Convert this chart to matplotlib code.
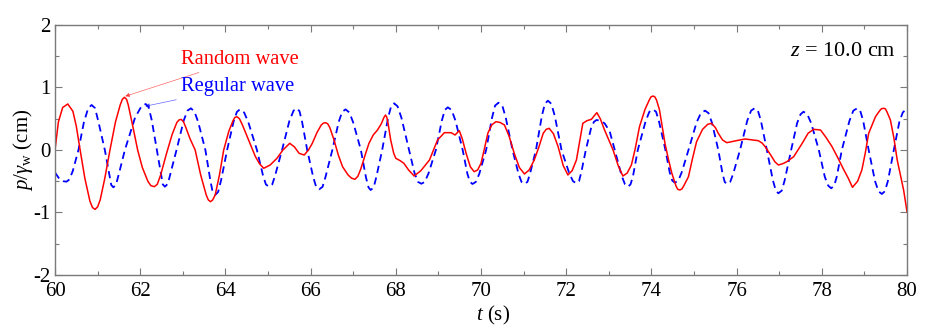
import numpy as np
import matplotlib
matplotlib.use('Agg')
import matplotlib.pyplot as plt
from matplotlib.ticker import MultipleLocator

plt.rcParams['font.family'] = ['Liberation Serif', 'DejaVu Serif']
plt.rcParams['mathtext.fontset'] = 'custom'
plt.rcParams['mathtext.rm'] = 'Liberation Serif'
plt.rcParams['mathtext.it'] = 'Liberation Serif:italic'
plt.rcParams['axes.unicode_minus'] = False

# random wave record: (t [s], p/gamma_w [cm])
random_wave = [
    (60.00, 0.00), (60.08, 0.45), (60.18, 0.68), (60.30, 0.736), (60.42, 0.62),
    (60.50, 0.38), (60.59, 0.00), (60.70, -0.45), (60.82, -0.82), (60.88, -0.92),
    (60.94, -0.95), (61.00, -0.91), (61.06, -0.80), (61.17, -0.45), (61.29, 0.00),
    (61.42, 0.45), (61.53, 0.72), (61.58, 0.81), (61.63, 0.843), (61.68, 0.81),
    (61.72, 0.72), (61.82, 0.40), (61.94, 0.00), (62.05, -0.28), (62.18, -0.50),
    (62.25, -0.57), (62.33, -0.587), (62.40, -0.55), (62.48, -0.40), (62.62, -0.05),
    (62.75, 0.25), (62.86, 0.44), (62.91, 0.48), (62.96, 0.49), (63.01, 0.46),
    (63.06, 0.38), (63.17, 0.18), (63.29, 0.00), (63.42, -0.40), (63.55, -0.72),
    (63.60, -0.80), (63.65, -0.827), (63.70, -0.80), (63.76, -0.72), (63.86, -0.40),
    (63.96, 0.00), (64.08, 0.30), (64.18, 0.47), (64.22, 0.52), (64.27, 0.533),
    (64.33, 0.50), (64.40, 0.40), (64.55, 0.15), (64.70, -0.10), (64.80, -0.22),
    (64.90, -0.293), (65.05, -0.24), (65.21, -0.133), (65.35, 0.00), (65.51, 0.107),
    (65.62, 0.05), (65.73, -0.053), (65.85, -0.08), (65.95, 0.00), (66.04, 0.107),
    (66.15, 0.28), (66.25, 0.40), (66.30, 0.43), (66.35, 0.437), (66.40, 0.42),
    (66.45, 0.36), (66.55, 0.16), (66.65, -0.08), (66.75, -0.267), (66.88, -0.40),
    (66.96, -0.45), (67.04, -0.469), (67.11, -0.42), (67.18, -0.30), (67.28, -0.08),
    (67.37, 0.107), (67.47, 0.24), (67.57, 0.32), (67.66, 0.42), (67.72, 0.52),
    (67.76, 0.56), (67.79, 0.52), (67.82, 0.42), (67.88, 0.16), (67.95, -0.05),
    (68.00, -0.133), (68.10, -0.17), (68.19, -0.213), (68.30, -0.32), (68.43, -0.416),
    (68.59, -0.33), (68.79, -0.16), (68.98, 0.16), (69.14, 0.277), (69.30, 0.277),
    (69.39, 0.24), (69.49, 0.31), (69.56, 0.18), (69.65, -0.053), (69.75, -0.27),
    (69.84, -0.347), (69.92, -0.32), (70.00, -0.213), (70.08, 0.02), (70.16, 0.267),
    (70.25, 0.40), (70.35, 0.453), (70.45, 0.44), (70.55, 0.40), (70.66, 0.22),
    (70.78, -0.053), (70.90, -0.28), (71.02, -0.384), (71.13, -0.32), (71.25, -0.16),
    (71.36, 0.05), (71.46, 0.267), (71.53, 0.33), (71.60, 0.347), (71.70, 0.26),
    (71.81, 0.053), (71.93, -0.25), (72.04, -0.40), (72.14, -0.33), (72.24, -0.16),
    (72.32, 0.15), (72.39, 0.427), (72.49, 0.47), (72.59, 0.49), (72.66, 0.55),
    (72.72, 0.597), (72.80, 0.50), (72.90, 0.32), (73.00, 0.16), (73.10, 0.00),
    (73.22, -0.25), (73.33, -0.416), (73.43, -0.37), (73.53, -0.24), (73.62, 0.02),
    (73.72, 0.373), (73.85, 0.65), (73.95, 0.80), (73.99, 0.85), (74.04, 0.864),
    (74.08, 0.85), (74.12, 0.80), (74.19, 0.64), (74.26, 0.35), (74.32, 0.10),
    (74.40, -0.15), (74.48, -0.373), (74.58, -0.58), (74.62, -0.63), (74.67, -0.64),
    (74.72, -0.62), (74.77, -0.56), (74.87, -0.427), (74.96, -0.15), (75.06, 0.133),
    (75.20, 0.33), (75.32, 0.41), (75.41, 0.427), (75.50, 0.36), (75.57, 0.267),
    (75.67, 0.16), (75.77, 0.117), (76.00, 0.15), (76.20, 0.176), (76.51, 0.149),
    (76.60, 0.11), (76.67, 0.053), (76.80, -0.08), (76.90, -0.19), (76.98, -0.24),
    (77.08, -0.22), (77.18, -0.187), (77.34, -0.107), (77.54, 0.107), (77.68, 0.27),
    (77.81, 0.331), (77.97, 0.32), (78.10, 0.20), (78.24, 0.053), (78.38, -0.13),
    (78.51, -0.309), (78.62, -0.45), (78.72, -0.597), (78.84, -0.50), (78.94, -0.32),
    (79.02, -0.05), (79.10, 0.267), (79.26, 0.533), (79.36, 0.63), (79.40, 0.66),
    (79.45, 0.667), (79.49, 0.66), (79.53, 0.61), (79.61, 0.48), (79.69, 0.20),
    (79.77, -0.16), (79.85, -0.42), (79.92, -0.64), (80.00, -0.987),
]

# regular wave record: (t [s], p/gamma_w [cm])
regular_wave = [
    (60.00, -0.36), (60.10, -0.46), (60.20, -0.50), (60.27, -0.507), (60.34, -0.47),
    (60.42, -0.33), (60.55, 0.00), (60.68, 0.45), (60.78, 0.67), (60.86, 0.72),
    (60.94, 0.67), (61.02, 0.45), (61.17, 0.00), (61.27, -0.38), (61.32, -0.56),
    (61.37, -0.597), (61.43, -0.56), (61.50, -0.38), (61.64, 0.00), (61.88, 0.52),
    (62.03, 0.70), (62.13, 0.736), (62.20, 0.68), (62.27, 0.48), (62.39, 0.00),
    (62.49, -0.40), (62.53, -0.55), (62.58, -0.587), (62.65, -0.54), (62.72, -0.35),
    (62.86, 0.02), (63.02, 0.47), (63.11, 0.63), (63.19, 0.667), (63.27, 0.62),
    (63.36, 0.45), (63.53, 0.00), (63.65, -0.50), (63.70, -0.67), (63.76, -0.72),
    (63.83, -0.67), (63.90, -0.48), (64.04, 0.00), (64.19, 0.45), (64.27, 0.61),
    (64.34, 0.65), (64.44, 0.60), (64.54, 0.44), (64.74, 0.00), (64.88, -0.40),
    (64.95, -0.55), (65.02, -0.587), (65.10, -0.55), (65.17, -0.40), (65.33, 0.00),
    (65.50, 0.46), (65.60, 0.63), (65.68, 0.667), (65.74, 0.62), (65.80, 0.45),
    (65.92, 0.00), (66.06, -0.43), (66.13, -0.59), (66.20, -0.629), (66.28, -0.59),
    (66.35, -0.43), (66.51, 0.00), (66.66, 0.45), (66.74, 0.61), (66.82, 0.65),
    (66.91, 0.60), (67.00, 0.44), (67.18, 0.00), (67.30, -0.44), (67.36, -0.60),
    (67.41, -0.64), (67.48, -0.60), (67.54, -0.44), (67.68, 0.00), (67.82, 0.52),
    (67.89, 0.70), (67.96, 0.747), (68.04, 0.70), (68.13, 0.52), (68.31, 0.00),
    (68.44, -0.37), (68.52, -0.51), (68.60, -0.54), (68.68, -0.51), (68.77, -0.37),
    (68.94, 0.00), (69.08, 0.47), (69.15, 0.64), (69.22, 0.683), (69.31, 0.64),
    (69.40, 0.47), (69.57, 0.00), (69.68, -0.38), (69.74, -0.51), (69.80, -0.544),
    (69.88, -0.51), (69.96, -0.38), (70.12, 0.00), (70.26, 0.52), (70.33, 0.71),
    (70.41, 0.757), (70.50, 0.71), (70.58, 0.52), (70.74, 0.00), (70.88, -0.38),
    (70.95, -0.51), (71.02, -0.544), (71.09, -0.51), (71.15, -0.38), (71.29, 0.00),
    (71.43, 0.55), (71.50, 0.74), (71.57, 0.789), (71.65, 0.74), (71.73, 0.55),
    (71.89, 0.00), (72.07, -0.37), (72.16, -0.50), (72.24, -0.533), (72.30, -0.50),
    (72.35, -0.37), (72.46, 0.00), (72.58, 0.34), (72.65, 0.45), (72.71, 0.48),
    (72.80, 0.47), (72.90, 0.427), (73.02, 0.30), (73.14, 0.00), (73.30, -0.41),
    (73.38, -0.55), (73.45, -0.587), (73.51, -0.55), (73.57, -0.41), (73.68, 0.00),
    (73.86, 0.45), (73.95, 0.61), (74.04, 0.65), (74.11, 0.61), (74.18, 0.45),
    (74.32, 0.03), (74.43, -0.36), (74.49, -0.49), (74.55, -0.523), (74.63, -0.49),
    (74.71, -0.36), (74.87, 0.00), (75.06, 0.44), (75.16, 0.59), (75.26, 0.63),
    (75.34, 0.59), (75.42, 0.44), (75.57, 0.00), (75.67, -0.38), (75.72, -0.51),
    (75.77, -0.544), (75.85, -0.51), (75.92, -0.38), (76.08, 0.00), (76.25, 0.47),
    (76.34, 0.63), (76.42, 0.667), (76.50, 0.63), (76.57, 0.47), (76.71, 0.00),
    (76.85, -0.48), (76.92, -0.65), (76.98, -0.693), (77.06, -0.65), (77.13, -0.48),
    (77.28, 0.00), (77.42, 0.43), (77.50, 0.57), (77.57, 0.613), (77.66, 0.57),
    (77.75, 0.43), (77.93, 0.00), (78.07, -0.43), (78.15, -0.57), (78.22, -0.613),
    (78.29, -0.57), (78.35, -0.43), (78.47, 0.00), (78.65, 0.47), (78.74, 0.63),
    (78.83, 0.667), (78.90, 0.63), (78.97, 0.47), (79.10, 0.00), (79.25, -0.50),
    (79.33, -0.66), (79.41, -0.704), (79.48, -0.66), (79.55, -0.50), (79.69, 0.00),
    (79.82, 0.45), (79.90, 0.60), (79.96, 0.64), (80.00, 0.65),
]

t_random, p_random = np.array(random_wave).T
t_regular, p_regular = np.array(regular_wave).T

grey = '#7a7a7a'

fig = plt.figure(figsize=(9.37, 3.32), dpi=100)
ax = fig.add_axes([0.0587, 0.1717, 0.9093, 0.753])

ax.plot(t_regular, p_regular, color='#0000ff', lw=1.3, dashes=(4, 2.6))
ax.plot(t_random, p_random, color='#ff0000', lw=1.1)

ax.set_xlim(60, 80)
ax.set_ylim(-2, 2)
ax.xaxis.set_major_locator(MultipleLocator(2))
ax.xaxis.set_minor_locator(MultipleLocator(1))
ax.yaxis.set_major_locator(MultipleLocator(1))
ax.yaxis.set_minor_locator(MultipleLocator(0.5))
ax.tick_params(which='both', direction='in', top=True, right=True,
               color=grey, width=0.8, labelsize=15)
ax.tick_params(axis='x', pad=5)
ax.tick_params(axis='y', pad=3)
ax.tick_params(which='major', length=5)
ax.tick_params(which='minor', length=3)
for s in ax.spines.values():
    s.set_color(grey)
    s.set_linewidth(1.0)

ax.set_xlabel(r'$t$ (s)', fontsize=15)
ax.xaxis.set_label_coords(0.514, -0.115)
ax.set_ylabel(r'$p/\gamma_{\rm w}$ (cm)', fontsize=15)
ax.yaxis.set_label_coords(-0.024, 0.5)

ax.text(79.74, 1.57, r'$z$ = 10.0 cm', fontsize=16, ha='right', va='center')

ax.annotate('Random wave', xy=(61.65, 0.86), xytext=(62.95, 1.45),
            color='#ff0000', fontsize=14.8, va='center', ha='left',
            arrowprops=dict(arrowstyle='-|>', color='#ff0000', lw=0.5,
                            alpha=0.6, mutation_scale=6, shrinkA=2, shrinkB=0))
ax.annotate('Regular wave', xy=(62.12, 0.70), xytext=(62.95, 1.01),
            color='#0000ff', fontsize=14.8, va='center', ha='left',
            arrowprops=dict(arrowstyle='-|>', color='#0000ff', lw=0.5,
                            alpha=0.6, mutation_scale=6, shrinkA=2, shrinkB=0))

fig.savefig('out.png', dpi=100)
